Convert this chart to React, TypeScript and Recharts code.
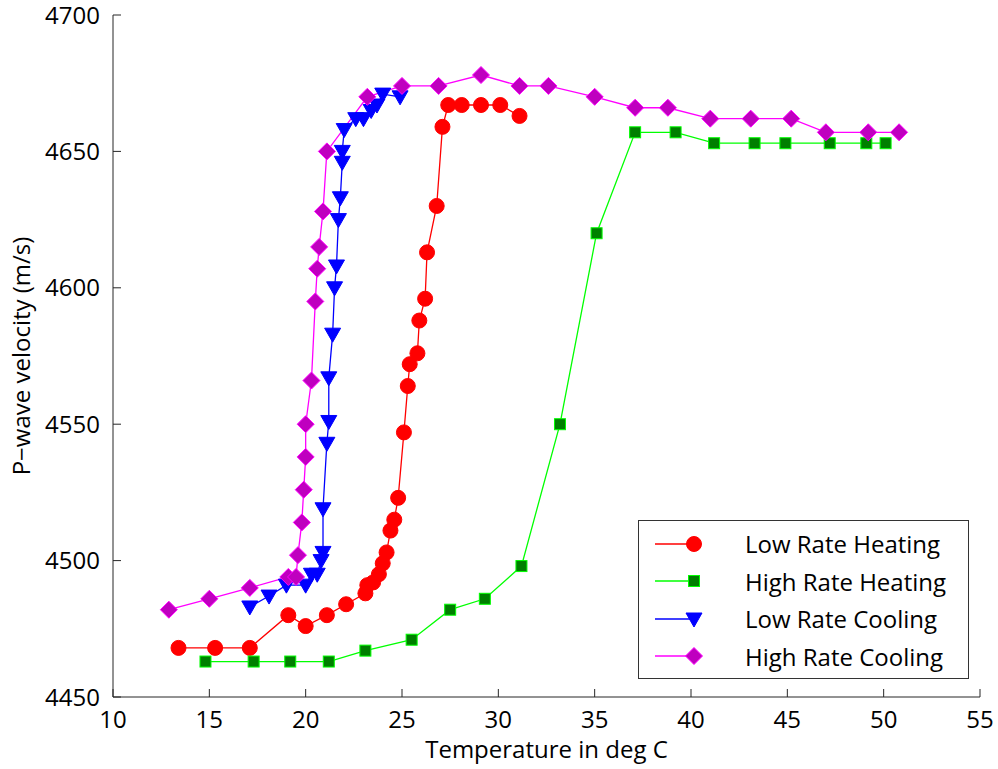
import { LineChart, Line, XAxis, YAxis, Legend } from 'recharts';

// temperature (deg C) and P-wave velocity (m/s)
const lowHeatTemp = [13.4, 15.3, 17.1, 19.1, 20.0, 21.1, 22.1, 23.1, 23.2, 23.5, 23.8, 24.0, 24.2, 24.4, 24.6, 24.8, 25.1, 25.3, 25.4, 25.8, 25.9, 26.2, 26.3, 26.8, 27.1, 27.4, 28.1, 29.1, 30.1, 31.1];
const lowHeatVel = [4468, 4468, 4468, 4480, 4476, 4480, 4484, 4488, 4491, 4492, 4495, 4499, 4503, 4511, 4515, 4523, 4547, 4564, 4572, 4576, 4588, 4596, 4613, 4630, 4659, 4667, 4667, 4667, 4667, 4663];

const highHeatTemp = [14.8, 17.3, 19.2, 21.2, 23.1, 25.5, 27.5, 29.3, 31.2, 33.2, 35.1, 37.1, 39.2, 41.2, 43.3, 44.9, 47.2, 49.1, 50.1];
const highHeatVel = [4463, 4463, 4463, 4463, 4467, 4471, 4482, 4486, 4498, 4550, 4620, 4657, 4657, 4653, 4653, 4653, 4653, 4653, 4653];

const lowCoolTemp = [17.1, 18.1, 19.0, 20.0, 20.3, 20.6, 20.8, 20.9, 20.9, 21.1, 21.2, 21.2, 21.4, 21.5, 21.6, 21.7, 21.8, 21.9, 21.9, 22.0, 22.6, 23.0, 23.4, 23.7, 24.0, 24.9];
const lowCoolVel = [4483, 4487, 4491, 4491, 4495, 4495, 4500, 4503, 4519, 4543, 4551, 4567, 4583, 4600, 4608, 4625, 4633, 4646, 4650, 4658, 4662, 4662, 4665, 4667, 4671, 4670];

const highCoolTemp = [12.9, 15.0, 17.1, 19.1, 19.5, 19.6, 19.8, 19.9, 20.0, 20.0, 20.3, 20.5, 20.6, 20.7, 20.9, 21.1, 23.2, 25.0, 26.9, 29.1, 31.1, 32.6, 35.0, 37.1, 38.8, 41.0, 43.1, 45.2, 47.0, 49.2, 50.8];
const highCoolVel = [4482, 4486, 4490, 4494, 4494, 4502, 4514, 4526, 4538, 4550, 4566, 4595, 4607, 4615, 4628, 4650, 4670, 4674, 4674, 4678, 4674, 4674, 4670, 4666, 4666, 4662, 4662, 4662, 4657, 4657, 4657];

const xTicks = [10, 15, 20, 25, 30, 35, 40, 45, 50, 55];
const yTicks = [4450, 4500, 4550, 4600, 4650, 4700];

const FONT = '"Open Sans", sans-serif';
const FS = 24;
const AXIS = '#262626';
const TICK_LEN = 8;
const GAP = 13;

const zip = (xs: number[], ys: number[]) => xs.map((x, i) => ({ x, y: ys[i] }));

const circleDot = (p: any) => (
  <circle key={p.index} cx={p.cx} cy={p.cy} r={7.5} fill="#ff0000" stroke="#ff0000" strokeWidth={1} />
);
const squareDot = (p: any) => (
  <rect key={p.index} x={p.cx - 5.5} y={p.cy - 5.5} width={11} height={11} fill="#007f00" stroke="#00ff00" strokeWidth={1} />
);
const triangleDot = (p: any) => (
  <polygon key={p.index} points={`${p.cx - 8},${p.cy - 6} ${p.cx + 8},${p.cy - 6} ${p.cx},${p.cy + 8}`} fill="#0000ff" stroke="#0000ff" strokeWidth={1} />
);
const diamondDot = (p: any) => (
  <polygon key={p.index} points={`${p.cx},${p.cy - 8.5} ${p.cx + 8.5},${p.cy} ${p.cx},${p.cy + 8.5} ${p.cx - 8.5},${p.cy}`} fill="#bf00bf" stroke="#ff00ff" strokeWidth={1} />
);

const series = [
  { name: 'Low Rate Heating', data: zip(lowHeatTemp, lowHeatVel), color: '#ff0000', dot: circleDot },
  { name: 'High Rate Heating', data: zip(highHeatTemp, highHeatVel), color: '#00ff00', dot: squareDot },
  { name: 'Low Rate Cooling', data: zip(lowCoolTemp, lowCoolVel), color: '#0000ff', dot: triangleDot },
  { name: 'High Rate Cooling', data: zip(highCoolTemp, highCoolVel), color: '#ff00ff', dot: diamondDot },
];

// ticks point inward, like matlab's boxed axes
const BottomTick = (p: any) => (
  <g>
    <line x1={p.x} x2={p.x} y1={p.y - GAP} y2={p.y - GAP - TICK_LEN} stroke={AXIS} />
    <text x={p.x} y={p.y} dy="0.74em" textAnchor="middle" fontFamily={FONT} fontSize={FS} fill="#000">{p.payload.value}</text>
  </g>
);
const LeftTick = (p: any) => (
  <g>
    <line x1={p.x + GAP} x2={p.x + GAP + TICK_LEN} y1={p.y} y2={p.y} stroke={AXIS} />
    <text x={p.x} y={p.y} dy="0.36em" textAnchor="end" fontFamily={FONT} fontSize={FS} fill="#000">{p.payload.value}</text>
  </g>
);
const TopTick = (p: any) => (
  <line x1={p.x} x2={p.x} y1={p.y} y2={p.y + TICK_LEN} stroke={AXIS} />
);
const RightTick = (p: any) => (
  <line x1={p.x} x2={p.x - TICK_LEN} y1={p.y} y2={p.y} stroke={AXIS} />
);

function LegendBox() {
  return (
    <div style={{ width: 329, height: 153, border: '1px solid #333', background: '#fff', fontFamily: FONT, fontSize: FS, paddingTop: 4, boxSizing: 'content-box' }}>
      {series.map((s) => (
        <div key={s.name} style={{ display: 'flex', alignItems: 'center', height: 37.5 }}>
          <svg width={100} height={24} style={{ marginLeft: 8, flex: 'none' }}>
            <line x1={8} y1={12} x2={47} y2={12} stroke={s.color} strokeWidth={1.3} />
            {s.dot({ cx: 47, cy: 12, index: 0 })}
          </svg>
          <span style={{ color: '#000', marginLeft: -2, whiteSpace: 'nowrap' }}>{s.name}</span>
        </div>
      ))}
    </div>
  );
}

function YLabel(props: any) {
  const vb = props.viewBox;
  const x = vb.x + 20;
  const y = vb.y + vb.height / 2;
  return (
    <text x={x} y={y} transform={`rotate(-90, ${x}, ${y})`} textAnchor="middle" dominantBaseline="central" fontFamily={FONT} fontSize={FS} fill="#000">
      P−wave velocity (m/s)
    </text>
  );
}

export default function App() {
  return (
    <div style={{ position: 'absolute', left: 0, top: 0, width: 998, height: 769, background: '#fff', fontFamily: FONT }}>
      <LineChart width={998} height={769} margin={{ top: 15, right: 18, bottom: 0, left: 0 }}>
        <XAxis
          xAxisId={0}
          dataKey="x"
          type="number"
          domain={[10, 55]}
          ticks={xTicks}
          allowDataOverflow
          height={72}
          tickLine={false}
          tickSize={0}
          tickMargin={GAP}
          tick={<BottomTick />}
          stroke={AXIS}
          label={{ value: 'Temperature in deg C', position: 'insideBottom', offset: 11, style: { fontFamily: FONT, fontSize: FS, fill: '#000' } }}
        />
        <XAxis
          xAxisId="top"
          orientation="top"
          dataKey="x"
          type="number"
          domain={[10, 55]}
          ticks={xTicks}
          allowDataOverflow
          height={0}
          tickLine={false}
          tickSize={0}
          tickMargin={0}
          tick={<TopTick />}
          stroke={AXIS}
        />
        <YAxis
          yAxisId={0}
          type="number"
          domain={[4450, 4700]}
          ticks={yTicks}
          allowDataOverflow
          width={113}
          tickLine={false}
          tickSize={0}
          tickMargin={GAP}
          tick={<LeftTick />}
          stroke={AXIS}
          label={<YLabel />}
        />
        <YAxis
          yAxisId="right"
          orientation="right"
          type="number"
          domain={[4450, 4700]}
          ticks={yTicks}
          allowDataOverflow
          width={0}
          tickLine={false}
          tickSize={0}
          tickMargin={0}
          tick={<RightTick />}
          stroke={AXIS}
        />
        {series.map((s) => (
          <Line
            key={s.name}
            xAxisId={0}
            yAxisId={0}
            data={s.data}
            dataKey="y"
            name={s.name}
            type="linear"
            stroke={s.color}
            strokeWidth={1.3}
            dot={s.dot}
            activeDot={false}
            isAnimationActive={false}
          />
        ))}
        <Legend
          layout="vertical"
          align="center"
          verticalAlign="middle"
          wrapperStyle={{ left: 638, top: 520, width: 331 }}
          content={() => <LegendBox />}
        />
      </LineChart>
    </div>
  );
}
